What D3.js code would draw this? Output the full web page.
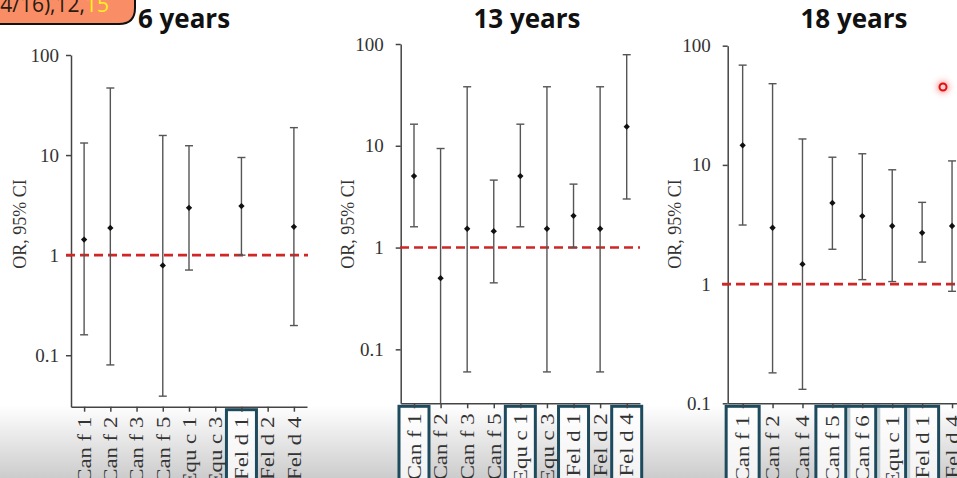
<!DOCTYPE html>
<html>
<head>
<meta charset="utf-8">
<script src="https://cdn.jsdelivr.net/npm/d3@7"></script>
<style>
  html, body { margin: 0; padding: 0; background: #fff; }
  svg { display: block; }
</style>
</head>
<body>
<svg id="chart" width="957" height="478"></svg>
<script>
// Odds ratios with 95% confidence intervals per allergen component, by age
const cats6 = ["Can f 1", "Can f 2", "Can f 3", "Can f 5", "Equ c 1", "Equ c 3", "Fel d 1", "Fel d 2", "Fel d 4"];
const or6 = [1.43, 1.87, null, 0.79, 2.97, null, 3.09, null, 1.92];
const lo6 = [0.16, 0.08, null, 0.039, 0.71, null, 1.0, null, 0.198];
const hi6 = [13.2, 46.8, null, 15.7, 12.4, null, 9.46, null, 18.8];
const marked6 = ["Fel d 1"];

const cats13 = ["Can f 1", "Can f 2", "Can f 3", "Can f 5", "Equ c 1", "Equ c 3", "Fel d 1", "Fel d 2", "Fel d 4"];
const or13 = [5.04, 0.50, 1.53, 1.45, 5.04, 1.53, 2.05, 1.53, 15.4];
const lo13 = [1.6, 0.02, 0.06, 0.45, 1.6, 0.06, 1.0, 0.06, 3.0];
const hi13 = [16.3, 9.4, 38, 4.6, 16.3, 38, 4.2, 38, 78.5];
const marked13 = ["Can f 1", "Equ c 1", "Fel d 1", "Fel d 4"];

const cats18 = ["Can f 1", "Can f 2", "Can f 4", "Can f 5", "Can f 6", "Equ c 1", "Fel d 1", "Fel d 4"];
const or18 = [14.6, 2.97, 1.47, 4.8, 3.72, 3.07, 2.69, 3.07];
const lo18 = [3.13, 0.18, 0.131, 1.96, 1.09, 1.05, 1.53, 0.87];
const hi18 = [68.7, 48, 16.5, 11.6, 12.4, 9.1, 4.85, 10.8];
const marked18 = ["Can f 1", "Can f 5", "Can f 6", "Equ c 1", "Fel d 1"];

const titles = ["6 years", "13 years", "18 years"];
const yTicks = [0.1, 1, 10, 100];
const yTickLabels = ["0.1", "1", "10", "100"];
const yTitle = "OR, 95% CI";
const refValue = 1;
const badgeText = "14/16),12,";
const badgeHighlight = "15";

const svg = d3.select("#chart");
const W = 957, H = 478;

// soft grey band along the bottom edge
const defs = svg.append("defs");
const grad = defs.append("linearGradient").attr("id", "shade").attr("x1", 0).attr("y1", 0).attr("x2", 0).attr("y2", 1);
grad.append("stop").attr("offset", 0).attr("stop-color", "#000").attr("stop-opacity", 0);
grad.append("stop").attr("offset", 1).attr("stop-color", "#000").attr("stop-opacity", 0.2);
svg.append("rect").attr("x", 0).attr("y", 405).attr("width", W).attr("height", H - 405).attr("fill", "url(#shade)");

const glow = defs.append("filter").attr("id", "glow").attr("x", "-200%").attr("y", "-200%").attr("width", "500%").attr("height", "500%");
glow.append("feGaussianBlur").attr("stdDeviation", 3);

const serif = "'Liberation Serif', 'Times New Roman', serif";

const layout = [
  { cats: cats6, or: or6, lo: lo6, hi: hi6, marked: marked6, x0: 71, x1: 307, yTop: 55, yBot: 406.7, yMin: 0.0306,
    titleX: 184, yTitleX: 20, labelGap: 12, dash: [66, 308], boxW: 30 },
  { cats: cats13, or: or13, lo: lo13, hi: hi13, marked: marked13, x0: 400.7, x1: 640, yTop: 44, yBot: 403.3, yMin: 0.0295,
    titleX: 527, yTitleX: 348, labelGap: 17, dash: [400, 640], boxW: 30 },
  { cats: cats18, or: or18, lo: lo18, hi: hi18, marked: marked18, x0: 727.7, x1: 967, yTop: 45.7, yBot: 403.3, yMin: 0.1,
    titleX: 854, yTitleX: 675, labelGap: 17, dash: [722, 957], boxW: 33 }
];

layout.forEach((p, i) => {
  const g = svg.append("g");
  const x = d3.scalePoint().domain(p.cats).range([p.x0, p.x1]).padding(0.5);
  const y = d3.scaleLog().domain([p.yMin, 100]).range([p.yBot, p.yTop]).clamp(true);

  // title
  svg.append("text").attr("x", p.titleX).attr("y", 28).attr("text-anchor", "middle")
    .attr("font-family", "'Open Sans', sans-serif").attr("font-weight", 700).attr("font-size", 26)
    .attr("fill", "#111").text(titles[i]);

  // y title
  g.append("text").attr("transform", `translate(${p.yTitleX},224) rotate(-90)`)
    .attr("text-anchor", "middle").attr("dy", "0.35em")
    .attr("font-family", serif).attr("font-size", 18).attr("fill", "#333").text(yTitle);

  // framed labels
  g.selectAll("rect.mark").data(p.marked).join("rect").attr("class", "mark")
    .attr("x", d => x(d) - p.boxW / 2).attr("y", p.yBot + 3)
    .attr("width", p.boxW).attr("height", 90)
    .attr("fill", "rgba(255,255,255,0.75)").attr("stroke", "#1e4a5e").attr("stroke-width", 3);

  // axes
  const ya = d3.axisLeft(y).tickValues(yTicks).tickFormat((d, k) => yTickLabels[k])
    .tickSize(5).tickSizeOuter(0).tickPadding(p.labelGap - 5);
  const yg = g.append("g").attr("transform", `translate(${p.x0},0)`).call(ya);
  const xa = d3.axisBottom(x).tickSize(5).tickSizeOuter(0).tickPadding(6);
  const xg = g.append("g").attr("transform", `translate(0,${p.yBot})`).call(xa);
  [yg, xg].forEach(a => {
    a.select(".domain").attr("stroke", "#444").attr("stroke-width", 1.5);
    a.selectAll(".tick line").attr("stroke", "#444").attr("stroke-width", 1.5);
    a.selectAll(".tick text").attr("font-family", serif).attr("font-size", 19).attr("fill", "#333");
  });
  const off = i === 2 ? 12 : 10;
  xg.selectAll(".tick text")
    .attr("text-anchor", "end").attr("transform", `translate(0,${off}) rotate(-90) scale(1.2,1)`)
    .attr("x", 0).attr("y", 0).attr("dy", "0.33em");

  // reference line at OR = 1
  g.append("line").attr("x1", p.dash[0]).attr("x2", p.dash[1]).attr("y1", y(refValue)).attr("y2", y(refValue))
    .attr("stroke", "#d02626").attr("stroke-width", 2.6).attr("stroke-dasharray", "9,5");

  // confidence intervals and point estimates
  const rows = p.cats.map((c, k) => ({ c, or: p.or[k], lo: p.lo[k], hi: p.hi[k] })).filter(d => d.or != null);
  const eb = g.selectAll("g.ci").data(rows).join("g").attr("class", "ci");
  eb.append("line").attr("x1", d => x(d.c)).attr("x2", d => x(d.c))
    .attr("y1", d => y(d.lo)).attr("y2", d => y(d.hi)).attr("stroke", "#555").attr("stroke-width", 1.4);
  eb.append("line").attr("x1", d => x(d.c) - 4).attr("x2", d => x(d.c) + 4)
    .attr("y1", d => y(d.hi)).attr("y2", d => y(d.hi)).attr("stroke", "#555").attr("stroke-width", 1.4);
  eb.filter(d => d.lo >= p.yMin).append("line").attr("x1", d => x(d.c) - 4).attr("x2", d => x(d.c) + 4)
    .attr("y1", d => y(d.lo)).attr("y2", d => y(d.lo)).attr("stroke", "#555").attr("stroke-width", 1.4);
  eb.append("path").attr("d", d3.symbol(d3.symbolSquare, 20))
    .attr("transform", d => `translate(${x(d.c)},${y(d.or)}) rotate(45)`).attr("fill", "#111");
});

// pointer dot
svg.append("circle").attr("cx", 943).attr("cy", 87).attr("r", 6).attr("fill", "#ff3030").attr("opacity", 0.5).attr("filter", "url(#glow)");
svg.append("circle").attr("cx", 943).attr("cy", 87).attr("r", 3.5).attr("fill", "#ffd0d0").attr("stroke", "#e01010").attr("stroke-width", 2);

// caption tab in the corner
svg.append("path")
  .attr("d", "M-5,-5 H135 V8 Q135,24 119,24 H-5 Z")
  .attr("fill", "#f98e66").attr("stroke", "#111").attr("stroke-width", 2);
const bt = svg.append("text").attr("x", 109).attr("y", 12).attr("text-anchor", "end")
  .attr("font-family", "'Open Sans', sans-serif").attr("font-size", 21).attr("font-weight", 400).attr("fill", "#2a1a10");
bt.append("tspan").text(badgeText);
bt.append("tspan").attr("fill", "#ffee22").text(badgeHighlight);
</script>
</body>
</html>
